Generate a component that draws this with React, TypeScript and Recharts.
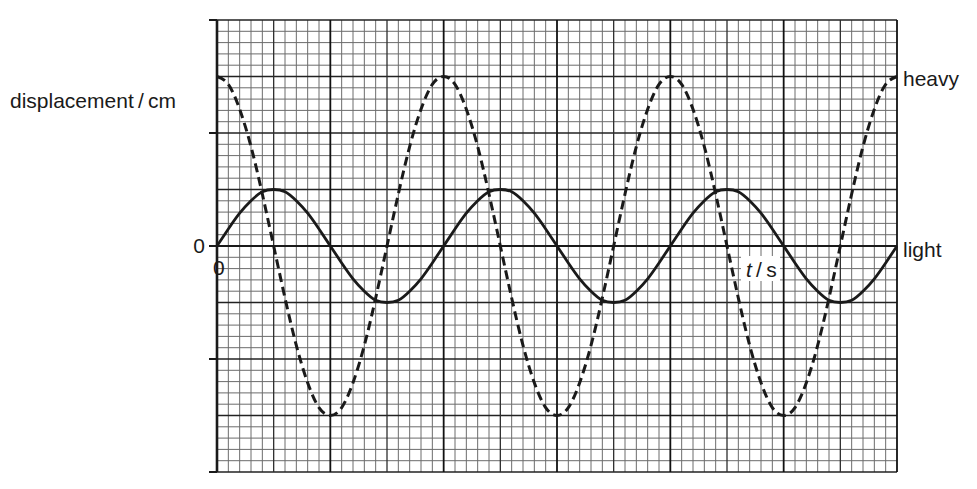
import React from 'react';
import {
  ComposedChart,
  Line,
  XAxis,
  YAxis,
  ReferenceLine,
} from 'recharts';

// time in small grid squares (60 squares across)
const tValues = [
  0, 1, 2, 3, 4, 5, 6, 7, 8, 9, 10, 11, 12, 13, 14, 15, 16, 17, 18, 19,
  20, 21, 22, 23, 24, 25, 26, 27, 28, 29, 30, 31, 32, 33, 34, 35, 36, 37, 38, 39,
  40, 41, 42, 43, 44, 45, 46, 47, 48, 49, 50, 51, 52, 53, 54, 55, 56, 57, 58, 59, 60,
];

// displacement in small grid squares
const lightValues = [
  0, 1.5, 2.9, 4.0, 4.8, 5.0, 4.8, 4.0, 2.9, 1.5, 0, -1.5, -2.9, -4.0, -4.8, -5.0, -4.8, -4.0, -2.9, -1.5,
  0, 1.5, 2.9, 4.0, 4.8, 5.0, 4.8, 4.0, 2.9, 1.5, 0, -1.5, -2.9, -4.0, -4.8, -5.0, -4.8, -4.0, -2.9, -1.5,
  0, 1.5, 2.9, 4.0, 4.8, 5.0, 4.8, 4.0, 2.9, 1.5, 0, -1.5, -2.9, -4.0, -4.8, -5.0, -4.8, -4.0, -2.9, -1.5, 0,
];

const heavyValues = [
  15, 14.3, 12.1, 8.8, 4.6, 0, -4.6, -8.8, -12.1, -14.3, -15, -14.3, -12.1, -8.8, -4.6, 0, 4.6, 8.8, 12.1, 14.3,
  15, 14.3, 12.1, 8.8, 4.6, 0, -4.6, -8.8, -12.1, -14.3, -15, -14.3, -12.1, -8.8, -4.6, 0, 4.6, 8.8, 12.1, 14.3,
  15, 14.3, 12.1, 8.8, 4.6, 0, -4.6, -8.8, -12.1, -14.3, -15, -14.3, -12.1, -8.8, -4.6, 0, 4.6, 8.8, 12.1, 14.3, 15,
];

const yTicks = [-20, -10, 0, 10, 20];

const range = (a: number, b: number, step: number) => {
  const out: number[] = [];
  for (let v = a; v <= b; v += step) out.push(v);
  return out;
};

// graph paper: thin line every square, darker every 5, darkest every 10 across
const gridX = range(0, 60, 1);
const gridY = range(-20, 20, 1);

const xLineStyle = (v: number) =>
  v % 10 === 0
    ? { stroke: '#111', strokeWidth: 1.8 }
    : v % 5 === 0
    ? { stroke: '#2e2e2e', strokeWidth: 1.3 }
    : { stroke: '#6c6c6c', strokeWidth: 1 };

const yLineStyle = (v: number) =>
  v % 5 === 0 ? { stroke: '#222', strokeWidth: 1.5 } : { stroke: '#6c6c6c', strokeWidth: 1 };

const data = tValues.map((t, i) => ({ t, light: lightValues[i], heavy: heavyValues[i] }));

const font = '"Liberation Sans", Arial, sans-serif';
const ink = '#1a1a1a';

const label = (left: number, top: number, extra: React.CSSProperties = {}): React.CSSProperties => ({
  position: 'absolute',
  left,
  top,
  fontFamily: font,
  fontSize: 21,
  color: ink,
  lineHeight: '21px',
  whiteSpace: 'nowrap',
  ...extra,
});

export default function App() {
  return (
    <div style={{ position: 'relative', width: 960, height: 470 }}>
      <ComposedChart
        width={960}
        height={470}
        data={data}
        margin={{ top: 12, right: 71, bottom: 6, left: 179 }}
      >
        <XAxis dataKey="t" type="number" domain={[0, 60]} hide />
        <YAxis
          type="number"
          domain={[-20, 20]}
          ticks={yTicks}
          width={30}
          tickSize={8}
          tickMargin={4}
          interval={0}
          axisLine={false}
          tickLine={{ stroke: ink, strokeWidth: 2 }}
          tickFormatter={(v: number) => (v === 0 ? '0' : '')}
          tick={{ fill: ink, fontSize: 21, fontFamily: font }}
        />
        {gridY.filter((v) => v % 5 !== 0).map((v) => (
          <ReferenceLine key={`hy${v}`} y={v} {...yLineStyle(v)} />
        ))}
        {gridX.filter((v) => v % 5 !== 0).map((v) => (
          <ReferenceLine key={`vx${v}`} x={v} {...xLineStyle(v)} />
        ))}
        {gridY.filter((v) => v % 5 === 0 && v !== 0).map((v) => (
          <ReferenceLine key={`Hy${v}`} y={v} {...yLineStyle(v)} />
        ))}
        {gridX.filter((v) => v % 5 === 0 && v !== 0).map((v) => (
          <ReferenceLine key={`Vx${v}`} x={v} {...xLineStyle(v)} />
        ))}
        <ReferenceLine x={0} stroke={ink} strokeWidth={2.6} />
        <ReferenceLine y={0} stroke={ink} strokeWidth={2.2} />
        <Line
          dataKey="light"
          type="natural"
          stroke={ink}
          strokeWidth={2.8}
          dot={false}
          isAnimationActive={false}
        />
        <Line
          dataKey="heavy"
          type="natural"
          stroke={ink}
          strokeWidth={3}
          strokeDasharray="9 5"
          dot={false}
          isAnimationActive={false}
        />
      </ComposedChart>
      <span style={label(2, 82)}>displacement{'\u2009'}/{'\u2009'}cm</span>
      <span style={label(205, 249)}>0</span>
      <span style={label(733, 248, { background: '#fff', padding: '3px 3px 1px 5px' })}>
        <i>t</i>{'\u2009'}/{'\u2009'}s
      </span>
      <span style={label(895, 60)}>heavy</span>
      <span style={label(895, 231)}>light</span>
    </div>
  );
}
